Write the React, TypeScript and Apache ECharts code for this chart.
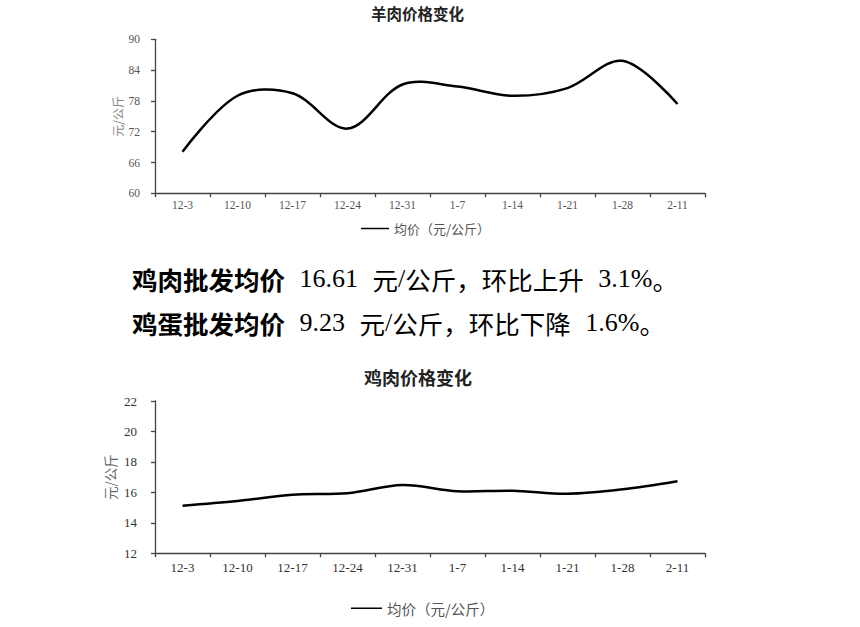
import React, { useEffect, useRef } from "react";
import * as echarts from "echarts";

const categories = ["12-3", "12-10", "12-17", "12-24", "12-31", "1-7", "1-14", "1-21", "1-28", "2-11"];
const muttonPrices = [68.1, 79.0, 79.5, 72.6, 81.2, 80.8, 79.0, 80.5, 85.8, 77.4];
const chickenPrices = [15.13, 15.43, 15.85, 15.94, 16.48, 16.07, 16.11, 15.91, 16.2, 16.73];
const muttonAxis = { min: 60, max: 90, interval: 6 };
const chickenAxis = { min: 12, max: 22, interval: 2 };
const seriesName = "均价（元/公斤）";
const unitName = "元/公斤";
const muttonTitle = "羊肉价格变化";
const chickenTitle = "鸡肉价格变化";
const chickenLead = "鸡肉批发均价";
const chickenAvg = "16.61";
const chickenTrend = "公斤，环比上升";
const chickenChange = "3.1%";
const eggLead = "鸡蛋批发均价";
const eggAvg = "9.23";
const eggTrend = "公斤，环比下降";
const eggChange = "1.6%";

const SERIF = "'Liberation Serif', 'Noto Sans CJK SC', serif";
const CJK = "'Noto Sans CJK SC', sans-serif";

// Smooth (Excel-like, cardinal spline) curve drawn through the data via the axes' scales.
function smoothLineSeries(values: number[], axisIndex: number) {
  return {
    name: seriesName,
    type: "custom",
    xAxisIndex: axisIndex,
    yAxisIndex: axisIndex,
    data: values.map((v, i) => [i, v]),
    encode: { x: 0, y: 1 },
    itemStyle: { color: "#000" },
    renderItem: (params: any, api: any) => {
      if (params.dataIndex !== 0) return null;
      const points = values.map((v, i) => api.coord([i, v]));
      return {
        type: "polyline",
        shape: { points, smooth: 0.34 },
        style: { stroke: "#000", lineWidth: 2.5, fill: null, lineJoin: "round", lineCap: "butt" },
        silent: true,
      };
    },
  };
}

export default function App() {
  const ref = useRef<HTMLDivElement>(null);
  useEffect(() => {
    if (!ref.current) return;
    const chart = echarts.init(ref.current, null, { renderer: "svg" });
    const axisLine = { show: true, lineStyle: { color: "#444", width: 1.3 } };
    const axisTick = { show: true, length: 4, lineStyle: { color: "#444", width: 1.3 } };
    const richStyles = {
      b: { fontSize: 25.5, fontWeight: "bold", fontFamily: CJK, fill: "#000", color: "#000" },
      r: { fontSize: 25.5, fontFamily: CJK, fill: "#000", color: "#000" },
      n: { fontSize: 26, fontFamily: SERIF, fill: "#000", color: "#000" },
      s: { fontSize: 25.5, width: 14.5, fontFamily: SERIF, fill: "#000", color: "#000" },
    };
    const para = (lead: string, avg: string, trend: string, change: string) =>
      `{b|${lead}}{s| }{n|${avg}}{s| }{r|元}{n|/}{r|${trend}}{s| }{n|${change}}{r|。}`;

    chart.setOption({
      animation: false,
      backgroundColor: "#fff",
      grid: [
        { left: 155, top: 39.3, width: 550, height: 154 },
        { left: 155, top: 401, width: 550, height: 152.3 },
      ],
      xAxis: [
        {
          type: "category",
          gridIndex: 0,
          data: categories,
          boundaryGap: true,
          axisLine,
          axisTick,
          axisLabel: { fontSize: 11.5, color: "#555", fontFamily: SERIF, margin: 6, interval: 0 },
        },
        {
          type: "category",
          gridIndex: 1,
          data: categories,
          boundaryGap: true,
          axisLine,
          axisTick,
          axisLabel: { fontSize: 13, color: "#333", fontFamily: SERIF, margin: 8, interval: 0 },
        },
      ],
      yAxis: [
        {
          type: "value",
          gridIndex: 0,
          min: muttonAxis.min,
          max: muttonAxis.max,
          interval: muttonAxis.interval,
          axisLine,
          axisTick,
          splitLine: { show: false },
          axisLabel: { fontSize: 11.5, color: "#555", fontFamily: SERIF, margin: 15 },
          name: unitName,
          nameLocation: "middle",
          nameRotate: 90,
          nameGap: 32,
          nameMoveOverlap: false,
          nameTextStyle: { fontSize: 12, color: "#888", fontFamily: CJK },
        },
        {
          type: "value",
          gridIndex: 1,
          min: chickenAxis.min,
          max: chickenAxis.max,
          interval: chickenAxis.interval,
          axisLine,
          axisTick,
          splitLine: { show: false },
          axisLabel: { fontSize: 13, color: "#333", fontFamily: SERIF, margin: 18 },
          name: unitName,
          nameLocation: "middle",
          nameRotate: 90,
          nameGap: 38,
          nameMoveOverlap: false,
          nameTextStyle: { fontSize: 13.5, color: "#666", fontFamily: CJK },
        },
      ],
      legend: [
        {
          data: [seriesName],
          left: 356,
          top: 217,
          icon: "rect",
          itemWidth: 28,
          itemHeight: 1.5,
          selectedMode: false,
          textStyle: { fontSize: 13, color: "#555", fontFamily: CJK },
        },
        {
          data: [seriesName],
          left: 346,
          top: 596,
          icon: "rect",
          itemWidth: 31,
          itemHeight: 1.5,
          selectedMode: false,
          textStyle: { fontSize: 14.5, color: "#555", fontFamily: CJK },
        },
      ],
      series: [smoothLineSeries(muttonPrices, 0), smoothLineSeries(chickenPrices, 1)],
      graphic: [
        {
          type: "text",
          x: 417.5,
          y: 13,
          style: {
            text: muttonTitle,
            fontSize: 15.5,
            fontWeight: "bold",
            fontFamily: CJK,
            fill: "#222",
            align: "center",
            verticalAlign: "middle",
          },
        },
        {
          type: "text",
          x: 418,
          y: 377,
          style: {
            text: chickenTitle,
            fontSize: 18,
            fontWeight: "bold",
            fontFamily: CJK,
            fill: "#222",
            align: "center",
            verticalAlign: "middle",
          },
        },
        {
          type: "text",
          x: 132,
          y: 278,
          style: {
            text: para(chickenLead, chickenAvg, chickenTrend, chickenChange),
            rich: richStyles,
            align: "left",
            verticalAlign: "middle",
          },
        },
        {
          type: "text",
          x: 132,
          y: 322,
          style: {
            text: para(eggLead, eggAvg, eggTrend, eggChange),
            rich: richStyles,
            align: "left",
            verticalAlign: "middle",
          },
        },
      ],
    });
    return () => chart.dispose();
  }, []);
  return (
    <div
      ref={ref}
      style={{ position: "fixed", left: 0, top: 0, width: 860, height: 627, background: "#fff" }}
    />
  );
}
